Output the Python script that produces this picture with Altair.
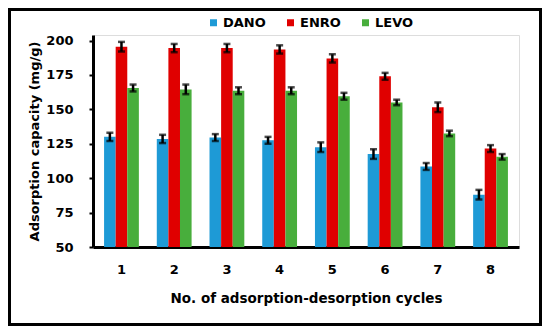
import altair as alt
import pandas as pd

cycles = [1, 2, 3, 4, 5, 6, 7, 8]
series = ["DANO", "ENRO", "LEVO"]
colors = ["#1E9AD6", "#E00000", "#48AE3C"]

dano = [130, 128.5, 129.5, 127.5, 122.5, 117.5, 108.5, 88]
enro = [195.5, 194.5, 194.5, 193.5, 187, 174, 151.5, 121.5]
levo = [165.5, 164.5, 163.5, 163.5, 159.5, 155, 132.5, 115.5]

dano_err = [3, 3, 2.5, 2.5, 3.5, 3.5, 2.5, 3.5]
enro_err = [3.5, 3, 3, 3, 3, 2.5, 3.5, 2.5]
levo_err = [2.5, 3.5, 2.5, 2.5, 2.5, 2, 2, 2]

y_ticks = [50, 75, 100, 125, 150, 175, 200]

rows = []
for name, vals, errs in [("DANO", dano, dano_err), ("ENRO", enro, enro_err), ("LEVO", levo, levo_err)]:
    for c, v, e in zip(cycles, vals, errs):
        rows.append({"cycle": c, "series": name, "value": v, "lo": v - e, "hi": v + e})
df = pd.DataFrame(rows)

FONT = "DejaVu Sans"
W, H = 426, 212
PL, PT, PR, PB = 85, 27, 23, 79

x = alt.X(
    "cycle:O",
    scale=alt.Scale(paddingInner=0.34, paddingOuter=0.21),
    axis=alt.Axis(
        title="No. of adsorption-desorption cycles",
        labelAngle=0,
        ticks=False,
        tickSize=0,
        labelPadding=16,
        labelFontSize=13,
        labelFontWeight="bold",
        labelFont=FONT,
        labelColor="black",
        titleFontSize=13.5,
        titleFontWeight="bold",
        titleFont=FONT,
        titleColor="black",
        titlePadding=15,
        domainWidth=3,
        domainColor="black",
    ),
)
xo = alt.XOffset("series:N", scale=alt.Scale(domain=series, paddingInner=0, paddingOuter=0))
yscale = alt.Scale(domain=[50, 204], nice=False, zero=False)
yaxis = alt.Axis(
    title="Adsorption capacity (mg/g)",
    values=y_ticks,
    labelOverlap=False,
    grid=False,
    tickSize=4,
    tickWidth=2,
    tickColor="black",
    domainWidth=3,
    domainColor="black",
    labelPadding=16,
    labelFontSize=13,
    labelFontWeight="bold",
    labelFont=FONT,
    labelColor="black",
    titleFontSize=13,
    titleFontWeight="bold",
    titleFont=FONT,
    titleColor="black",
    titlePadding=4,
)

base = alt.Chart(df).encode(x=x, xOffset=xo)

bars = base.mark_bar(clip=True).encode(
    y=alt.Y("value:Q", scale=yscale, axis=yaxis),
    color=alt.Color(
        "series:N",
        scale=alt.Scale(domain=series, range=colors),
        legend=alt.Legend(
            title=None,
            orient="none",
            direction="horizontal",
            legendX=114,
            legendY=-19,
            symbolType="square",
            symbolSize=49,
            symbolStrokeWidth=0,
            labelFontSize=13,
            labelFontWeight="bold",
            labelFont=FONT,
            labelColor="black",
            labelOffset=3,
            columnPadding=18,
        ),
    ),
)

rules = base.mark_rule(color="black", strokeWidth=2.5).encode(
    y=alt.Y("lo:Q", scale=yscale, axis=yaxis), y2="hi:Q"
)
cap_lo = base.mark_tick(color="black", thickness=2.5, size=7).encode(
    y=alt.Y("lo:Q", scale=yscale, axis=yaxis)
)
cap_hi = base.mark_tick(color="black", thickness=2.5, size=7).encode(
    y=alt.Y("hi:Q", scale=yscale, axis=yaxis)
)

border = alt.Chart(alt.Data(values=[{"a": 1}])).mark_rect(
    fill="transparent", stroke="black", strokeWidth=3
).encode(
    x=alt.value(-PL + 1.5),
    x2=alt.value(W + PR - 1.5),
    y=alt.value(-PT + 1.5),
    y2=alt.value(H + PB - 1.5),
)

chart = (
    alt.layer(bars, rules, cap_lo, cap_hi, border)
    .properties(
        width=W,
        height=H,
        autosize=alt.AutoSizeParams(type="none"),
        padding={"left": PL, "top": PT, "right": PR, "bottom": PB},
    )
    .configure_view(stroke="transparent", strokeWidth=0)
    .configure(background="white")
)

chart.save("out.html", embed_options={"renderer": "svg", "actions": False})
